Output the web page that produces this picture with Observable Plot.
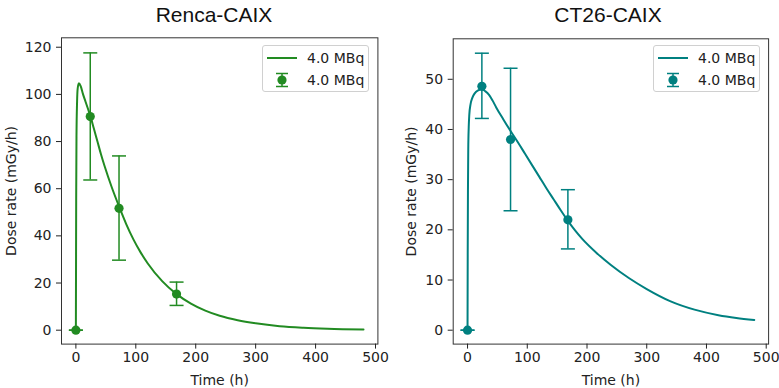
<!DOCTYPE html>
<html>
<head>
<meta charset="utf-8">
<script src="https://cdn.jsdelivr.net/npm/d3@7"></script>
<script src="https://cdn.jsdelivr.net/npm/@observablehq/plot@0.6"></script>
<style>
  body { margin: 0; background: white; }
  #wrap { position: relative; width: 779px; height: 388px; overflow: hidden; background: white; }
  .title { position: absolute; top: 0; height: 30px; font-family: "Liberation Sans", Arial, sans-serif; font-size: 21px; color: #111; text-align: center; line-height: 30px; }
  .panel { position: absolute; top: 30px; }
  .legend { position: absolute; background: rgba(255,255,255,0.8); border: 1px solid #d0d0d0; border-radius: 3px; box-sizing: border-box; }
  .legend svg { position: absolute; left: 0; top: 0; overflow: visible; }
</style>
</head>
<body>
<div id="wrap"></div>
<script>
// ---------- data ----------
const panelTitles = ["Renca-CAIX", "CT26-CAIX"];
const seriesLabel = "4.0 MBq";
const xLabel = "Time (h)";
const yLabel = "Dose rate (mGy/h)";
const xTicks = [0, 100, 200, 300, 400, 500];
const rencaYTicks = [0, 20, 40, 60, 80, 100, 120];
const ct26YTicks = [0, 10, 20, 30, 40, 50];

// fitted curves
const rencaCurveT = [0, 0.5, 1, 2, 3, 5, 8, 12, 16, 20, 24, 30, 36, 42, 48, 60, 72, 84, 96, 108, 120, 144, 168, 192, 216, 240, 270, 300, 340, 380, 420, 480];
const rencaCurveV = [0, 55, 82, 97, 102.5, 104.7, 103.5, 100, 97, 94, 91, 85.5, 80, 74.5, 69.5, 60.5, 52.5, 45, 38.5, 33, 28.3, 20.8, 15.3, 11.3, 8.3, 6.1, 4.2, 2.9, 1.7, 1.05, 0.65, 0.3];
const ct26CurveT = [0, 0.3, 0.7, 1.2, 2, 3, 5, 8, 12, 18, 24, 30, 36, 42, 48, 60, 72, 84, 96, 108, 120, 132, 144, 156, 168, 180, 192, 216, 240, 270, 300, 340, 380, 420, 450, 480];
const ct26CurveV = [0, 15, 28, 36, 40.5, 43, 45, 46.3, 47.2, 47.8, 48, 47.6, 46.9, 45.75, 44.4, 42.0, 39.7, 37.5, 35.2, 32.9, 30.6, 28.3, 26.1, 23.9, 21.8, 19.9, 18.2, 15.4, 13.0, 10.4, 8.2, 5.75, 4.1, 3.0, 2.45, 2.05];

// measurements
const measT = [0, 24, 72, 168];
const rencaMean = [0, 90.6, 51.7, 15.3];
const rencaLow = [0, 63.7, 29.7, 10.5];
const rencaHigh = [0, 117.6, 73.9, 20.4];
const ct26Mean = [0, 48.6, 38.0, 22.0];
const ct26Low = [0, 42.2, 23.8, 16.2];
const ct26High = [0, 55.2, 52.2, 28.0];

const rencaColor = "#228b22";
const ct26Color = "#008080";

// ---------- drawing ----------
const capSymbol = { draw(ctx) { ctx.moveTo(-7, 0); ctx.lineTo(7, 0); } };

function panel(o) {
  const curve = o.curveT.map((t, i) => ({ t, v: o.curveV[i] }));
  const pts = measT.map((t, i) => ({ t, m: o.mean[i], lo: o.low[i], hi: o.high[i] }));
  return Plot.plot({
    width: o.width,
    height: 358,
    marginLeft: o.mL, marginRight: o.mR, marginTop: o.mT, marginBottom: o.mB,
    style: { fontFamily: "'DejaVu Sans', sans-serif", fontSize: "14px", color: "#222", background: "white", overflow: "visible" },
    x: { domain: [-24, 504] },
    y: { domain: o.yDomain },
    marks: [
      Plot.frame({ stroke: "#333", strokeWidth: 1 }),
      Plot.axisX({ ticks: xTicks, tickSize: 5, tickPadding: 3, label: xLabel, labelAnchor: "center", labelArrow: "none", labelOffset: 41, fontSize: 14 }),
      Plot.axisY({ ticks: o.yTicks, tickSize: 5, tickPadding: 5, label: yLabel, labelAnchor: "center", labelArrow: "none", labelOffset: o.yLabelOffset, fontSize: 14 }),
      Plot.line(curve, { x: "t", y: "v", stroke: o.color, strokeWidth: 2, curve: "monotone-x" }),
      Plot.ruleX(pts, { x: "t", y1: "lo", y2: "hi", stroke: o.color, strokeWidth: 1.5 }),
      Plot.dot(pts, { x: "t", y: "lo", symbol: capSymbol, fill: "none", stroke: o.color, strokeWidth: 1.5 }),
      Plot.dot(pts, { x: "t", y: "hi", symbol: capSymbol, fill: "none", stroke: o.color, strokeWidth: 1.5 }),
      Plot.dot(pts, { x: "t", y: "m", r: 4.6, fill: o.color, stroke: "none" })
    ]
  });
}

function legend(left, color) {
  const div = document.createElement("div");
  div.className = "legend";
  div.style.left = left + "px";
  div.style.top = "45px";
  div.style.width = "107px";
  div.style.height = "47px";
  const svg = d3.create("svg").attr("width", 107).attr("height", 47)
    .style("font-family", "'DejaVu Sans', sans-serif").style("font-size", "14px");
  svg.append("line").attr("x1", 4).attr("x2", 34).attr("y1", 12).attr("y2", 12).attr("stroke", color).attr("stroke-width", 2);
  svg.append("line").attr("x1", 19).attr("x2", 19).attr("y1", 27.5).attr("y2", 40.5).attr("stroke", color).attr("stroke-width", 1.5);
  svg.append("line").attr("x1", 13).attr("x2", 25).attr("y1", 27.5).attr("y2", 27.5).attr("stroke", color).attr("stroke-width", 1.5);
  svg.append("line").attr("x1", 13).attr("x2", 25).attr("y1", 40.5).attr("y2", 40.5).attr("stroke", color).attr("stroke-width", 1.5);
  svg.append("circle").attr("cx", 19).attr("cy", 34).attr("r", 4.6).attr("fill", color);
  svg.append("text").attr("x", 44).attr("y", 12).attr("dy", "0.35em").attr("fill", "#222").text(seriesLabel);
  svg.append("text").attr("x", 44).attr("y", 34).attr("dy", "0.35em").attr("fill", "#222").text(seriesLabel);
  div.appendChild(svg.node());
  return div;
}

const wrap = document.getElementById("wrap");

function addTitle(text, center) {
  const t = document.createElement("div");
  t.className = "title";
  t.style.left = (center - 100) + "px";
  t.style.width = "200px";
  t.textContent = text;
  wrap.appendChild(t);
}
addTitle(panelTitles[0], 214);
addTitle(panelTitles[1], 608);

const p1 = panel({
  curveT: rencaCurveT, curveV: rencaCurveV, mean: rencaMean, low: rencaLow, high: rencaHigh,
  color: rencaColor, yDomain: [-5.9, 124.0], yTicks: rencaYTicks,
  width: 390, mL: 61, mR: 12.6, mT: 7.3, mB: 44.4, yLabelOffset: 55
});
p1.classList.add("panel");
p1.style.left = "0px";
wrap.appendChild(p1);

const p2 = panel({
  curveT: ct26CurveT, curveV: ct26CurveV, mean: ct26Mean, low: ct26Low, high: ct26High,
  color: ct26Color, yDomain: [-2.77, 58.07], yTicks: ct26YTicks,
  width: 389, mL: 62.7, mR: 10.9, mT: 8.3, mB: 44.4, yLabelOffset: 47
});
p2.classList.add("panel");
p2.style.left = "390px";
wrap.appendChild(p2);

wrap.appendChild(legend(262, rencaColor));
wrap.appendChild(legend(653, ct26Color));
</script>
</body>
</html>
